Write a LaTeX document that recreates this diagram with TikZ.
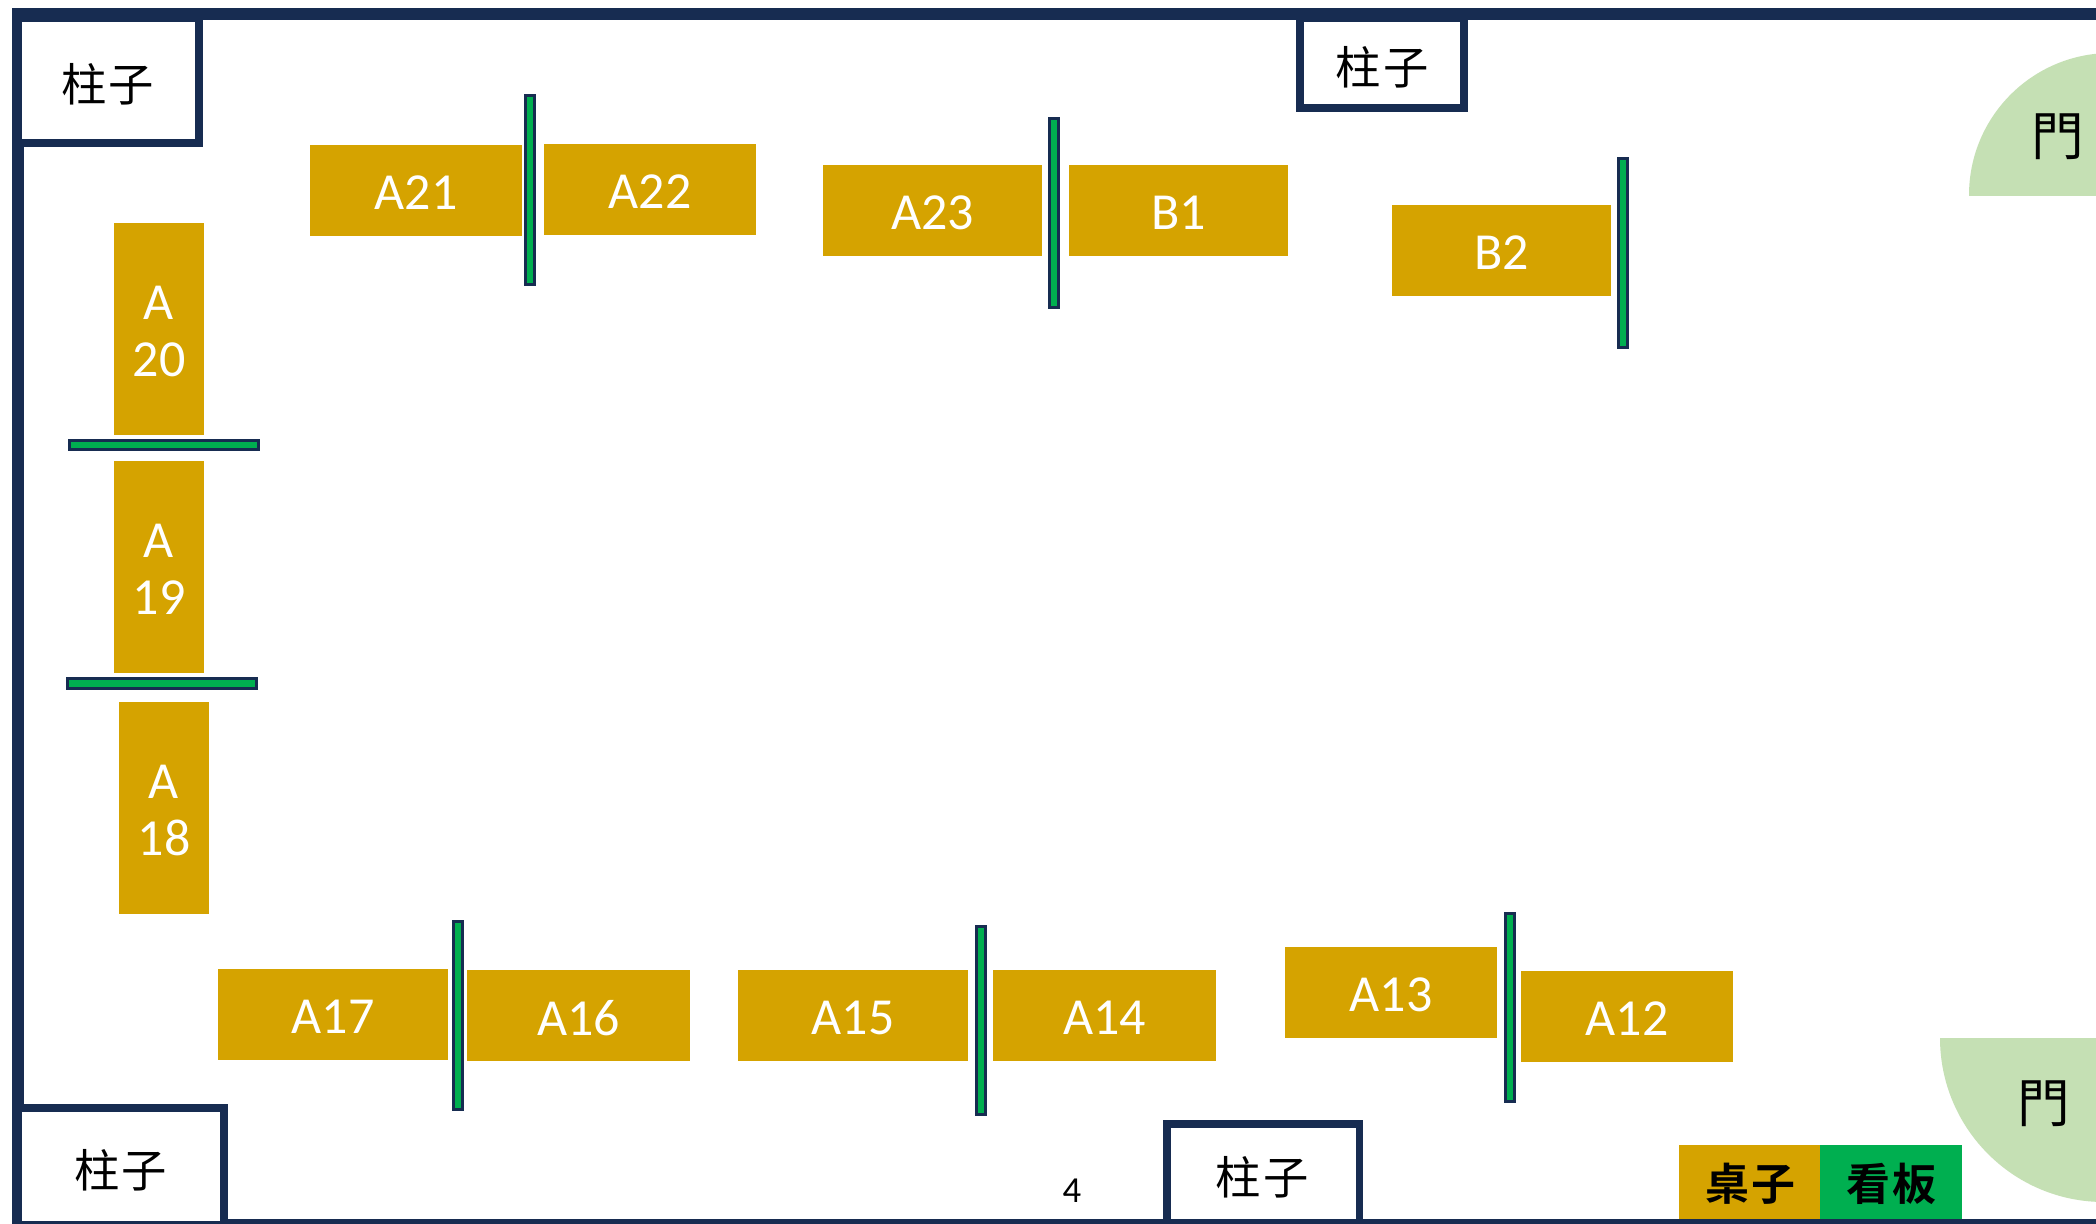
\documentclass[tikz,border=0pt]{standalone}
\usepackage{fontspec}
\setmainfont{Carlito}
\newfontfamily\cjk{Noto Sans CJK TC}
\newfontfamily\cjkb{Noto Sans CJK TC Bold}
\definecolor{wallc}{HTML}{172C51}
\definecolor{deskc}{HTML}{D5A300}
\definecolor{signc}{HTML}{00AF50}
\definecolor{doorc}{HTML}{C5E0B4}
\tikzset{
  deskbox/.style={fill=deskc,inner sep=0pt,outer sep=0pt},
  desktext/.style={text=white,inner sep=0pt,outer sep=0pt,align=center,
    font=\fontsize{39}{42.75}\selectfont},
  signbar/.style={fill=signc,draw=wallc,line width=2.25pt},
  wall/.style={fill=wallc,draw=none},
  hollow/.style={fill=white,draw=none},
  cjklabel/.style={inner sep=0pt,text=black,font=\cjk\fontsize{34}{34}\selectfont},
  doorlabel/.style={inner sep=0pt,text=black,font=\cjk\fontsize{39.5}{39.5}\selectfont},
  legendlabel/.style={inner sep=0pt,outer sep=0pt,text=black,font=\cjkb\fontsize{33}{33}\selectfont}
}
\newcommand{\desk}[6]{%
  \node[deskbox,minimum width={(#4-#2)*0.75pt},minimum height={(#5-#3)*0.75pt}]
    (#1) at ({(#2+#4)/2},{(#3+#5)/2}) {};
  \node[desktext] (#1t) at ([yshift=-1.6pt]#1.center) {#6};}
\newcommand{\signboard}[4]{%
  \draw[signbar] ({#1+1.5},{#2+1.5}) rectangle ({#3-1.5},{#4-1.5});}
\newcommand{\pillar}[8]{%
  \fill[wall] (#1,#2) rectangle (#3,#4);
  \fill[hollow] (#5,#6) rectangle (#7,#8);}
\begin{document}
\begin{tikzpicture}[x=0.75pt,y=-0.75pt]
\useasboundingbox (0,0) rectangle (2096,1224);
\fill[white] (0,0) rectangle (2096,1224);
% walls
\fill[wall] (12,8) rectangle (2096,20);
\fill[wall] (12,8) rectangle (24,1224);
\fill[wall] (12,1219) rectangle (2096,1224);
% pillars
\pillar{12}{8}{203}{147}{22}{22}{195}{139}
\pillar{12}{1104}{228}{1224}{22}{1112}{220}{1221}
\pillar{1296}{8}{1468}{112}{1304}{22}{1460}{104}
\pillar{1163}{1119.5}{1363}{1224}{1171}{1127.5}{1356}{1219}
\node[cjklabel] (p1) at (108,84) {柱\kern1.5pt子};
\node[cjklabel] (p2) at (120.5,1170) {柱\kern1.5pt子};
\node[cjklabel] (p3) at (1382,67) {柱\kern1.5pt子};
\node[cjklabel] (p4) at (1262,1177) {柱\kern1.5pt子};
% doors
\begin{scope}
  \clip (1900,0) rectangle (2096,195);
  \fill[doorc] (2111,195) circle[radius=106.5pt];
\end{scope}
\begin{scope}
  \clip (1900,1038) rectangle (2096,1224);
  \fill[doorc] (2104,1038) circle[radius=123pt];
\end{scope}
\node[doorlabel] (d1) at (2058,137) {門};
\node[doorlabel] (d2) at (2044,1104) {門};
% desks
\desk{a21}{310}{145}{522}{236}{A21}
\desk{a22}{544}{144}{756}{235}{A22}
\desk{a23}{823}{165}{1042}{256}{A23}
\desk{b1}{1069}{165}{1288}{256}{B1}
\desk{b2}{1392}{205}{1611}{296}{B2}
\desk{a20}{114}{223}{204}{435}{A\\20}
\desk{a19}{114}{461}{204}{673}{A\\19}
\desk{a18}{119}{702}{209}{914}{A\\18}
\desk{a17}{218}{969}{448}{1060}{A17}
\desk{a16}{467}{970}{690}{1061}{A16}
\desk{a15}{738}{970}{968}{1061}{A15}
\desk{a14}{993}{970}{1216}{1061}{A14}
\desk{a13}{1285}{947}{1497}{1038}{A13}
\desk{a12}{1521}{971}{1733}{1062}{A12}
% signboards
\signboard{524}{94}{536}{286}
\signboard{1048}{117}{1060}{309}
\signboard{1617}{157}{1629}{349}
\signboard{68}{439}{260}{451}
\signboard{66}{677}{258}{690}
\signboard{452}{920}{464}{1111}
\signboard{975}{925}{987}{1116}
\signboard{1504}{912}{1516}{1103}
% page number
\node[inner sep=0pt,text=black,font=\fontsize{27.5}{27.5}\selectfont] (pg) at (1072,1190.5) {4};
% legend
\fill[deskc] (1679,1145) rectangle (1820,1219);
\fill[signc] (1820,1145) rectangle (1962,1219);
\node[legendlabel] (l1) at (1750.5,1184) {桌\kern2pt子};
\node[legendlabel] (l2) at (1891.5,1184) {看\kern2pt板};
\end{tikzpicture}
\end{document}
